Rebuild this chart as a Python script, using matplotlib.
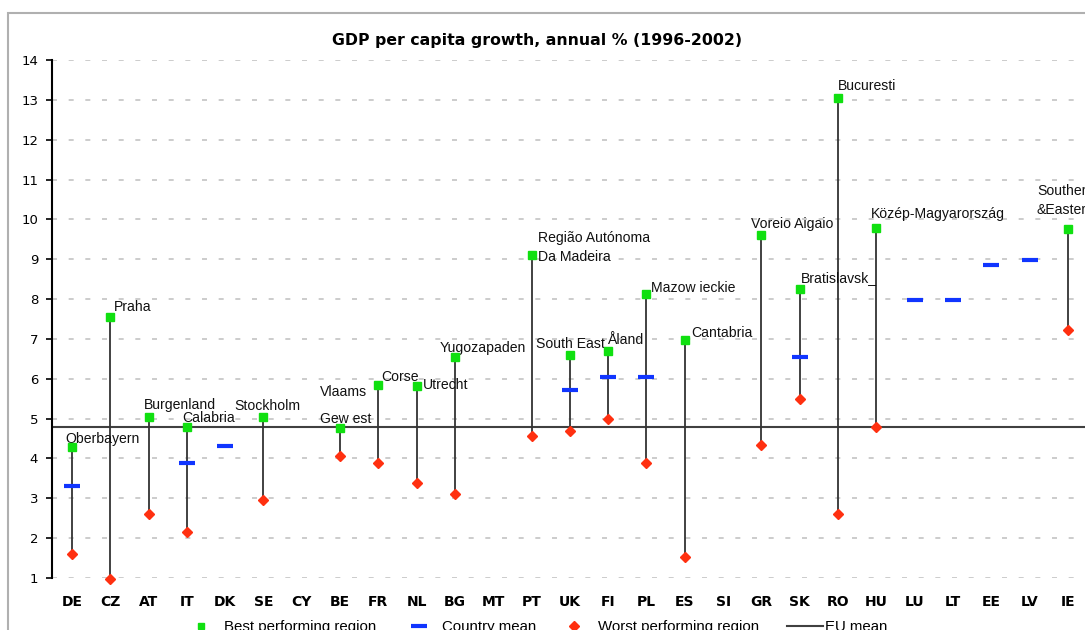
import matplotlib.pyplot as plt
import numpy as np
from matplotlib.patches import Rectangle
from matplotlib.lines import Line2D

countries = ['DE', 'CZ', 'AT', 'IT', 'DK', 'SE', 'CY', 'BE', 'FR', 'NL', 'BG', 'MT', 'PT', 'UK',
             'FI', 'PL', 'ES', 'SI', 'GR', 'SK', 'RO', 'HU', 'LU', 'LT', 'EE', 'LV', 'IE']
nan = np.nan
best = [4.3, 7.55, 5.05, 4.8, nan, 5.05, nan, 4.77, 5.85, 5.82, 6.55, nan, 9.1, 6.6,
        6.7, 8.12, 6.98, nan, 9.62, 8.25, 13.05, 9.78, nan, nan, nan, nan, 9.77]
worst = [1.6, 0.97, 2.6, 2.15, nan, 2.95, nan, 4.05, 3.88, 3.38, 3.12, nan, 4.57, 4.68,
         4.98, 3.88, 1.53, nan, 4.33, 5.5, 2.6, 4.8, nan, nan, nan, nan, 7.22]
mean = [3.32, nan, nan, 3.88, 4.32, nan, nan, nan, nan, nan, nan, nan, nan, 5.72,
        6.05, 6.05, nan, nan, nan, 6.55, nan, nan, 7.97, 7.97, 8.85, 8.98, nan]
eu_mean = 4.78

# best region names: country -> label
regions = {'DE': 'Oberbayern', 'CZ': 'Praha', 'AT': 'Burgenland', 'IT': 'Calabria',
           'SE': 'Stockholm', 'BE': 'Vlaams\n\nGew est', 'FR': 'Corse', 'NL': 'Utrecht',
           'BG': 'Yugozapaden', 'PT': 'Região Autónoma\nDa Madeira', 'UK': 'South East',
           'FI': 'Åland', 'PL': 'Mazow ieckie', 'ES': 'Cantabria', 'GR': 'Voreio Aigaio',
           'SK': 'Bratislavsk_', 'RO': 'Bucuresti', 'HU': 'Közép-Magyarország',
           'IE': 'Southern\n&Eastern'}
# label offsets in pixels (left edge, vertical centre) relative to the marker
offsets = {'DE': (-7, 8), 'CZ': (4, 10), 'AT': (-5, 12), 'IT': (-5, 9), 'SE': (-29, 11),
           'BE': (-20, 22), 'FR': (3, 8), 'NL': (6, 1), 'BG': (-15, 9), 'PT': (6, 8),
           'UK': (-34, 11), 'FI': (-1, 11), 'PL': (5, 6), 'ES': (6, 7), 'GR': (-10, 11),
           'SK': (1, 11), 'RO': (0, 12), 'HU': (-5, 14), 'IE': (-31, 28)}

W, H = 1085, 630
fig = plt.figure(figsize=(W / 100, H / 100), dpi=100)
fig.patches.append(Rectangle((8 / W, -0.1), 1.2, 1 - 13 / H + 0.1, transform=fig.transFigure,
                             fill=False, edgecolor='#b0b0b0', linewidth=1.5))

ax = fig.add_axes([52 / W, 1 - 578 / H, 1035 / W, 518 / H])
x = np.arange(len(countries))
b = np.array(best)
w = np.array(worst)
m = np.array(mean)

ax.set_xlim(-0.52, 26.5)
ax.set_ylim(1, 14)
ax.set_yticks(range(1, 15))
ax.yaxis.grid(True, linestyle=(0, (3, 7)), color='#c4c4c4', linewidth=1.2)
ax.set_axisbelow(True)
for s in ['top', 'right', 'bottom']:
    ax.spines[s].set_visible(False)
ax.spines['left'].set_linewidth(1.5)

ax.axhline(eu_mean, color='#404040', linewidth=1.5, zorder=2)
ax.vlines(x, w, b, color='#333333', linewidth=1.3, zorder=3)
ax.plot(x, m, linestyle='none', marker='_', markersize=11, markeredgewidth=3,
        color='#1035ff', zorder=4, clip_on=False)
ax.plot(x, w, linestyle='none', marker='D', markersize=5, color='#ff3010', zorder=5,
        clip_on=False)
ax.plot(x, b, linestyle='none', marker='s', markersize=5.5, color='#10e010', zorder=6,
        clip_on=False)

for i, c in enumerate(countries):
    if c in regions:
        dx, dy = offsets[c]
        ax.annotate(regions[c], (i, best[i]), xytext=(dx, dy), textcoords='offset pixels',
                    ha='left', va='center', fontsize=10.1, family='Liberation Sans',
                    linespacing=0.95 if '\n\n' in regions[c] else 1.45, color='#111111')

ax.set_xticks(x)
ax.set_xticklabels(countries, fontweight='bold', fontsize=10, family='DejaVu Sans')
ax.tick_params(axis='x', length=0, pad=12)
ax.tick_params(axis='y', length=4, width=1.2, labelsize=9.5, pad=6)

fig.text(537 / W, 1 - 40 / H, 'GDP per capita growth, annual % (1996-2002)', ha='center',
         va='center', fontsize=11.3, fontweight='bold', family='DejaVu Sans')

# legend entries placed one by one, like the spreadsheet legend
entries = [
    (Line2D([], [], linestyle='none', marker='s', markersize=5, color='#10e010'),
     'Best performing region', 190, 1.5, 0.8),
    (Line2D([], [], linestyle='none', marker='_', markersize=11, markeredgewidth=3,
            color='#1035ff'), 'Country mean', 408, 1.5, 0.8),
    (Line2D([], [], linestyle='none', marker='D', markersize=5, color='#ff3010'),
     'Worst performing region', 563, 1.5, 0.8),
    (Line2D([], [], color='#404040', linewidth=1.5), 'EU mean', 787, 2.4, 0.15),
]
for h, lab, px, hl, tp in entries:
    leg = fig.legend([h], [lab], loc='center left', bbox_to_anchor=(px / W, 1 - 627 / H),
                     frameon=False, borderpad=0, borderaxespad=0, handlelength=hl,
                     handletextpad=tp, prop={'family': 'Liberation Sans', 'size': 10.8})

fig.savefig('out.png', dpi=100)
